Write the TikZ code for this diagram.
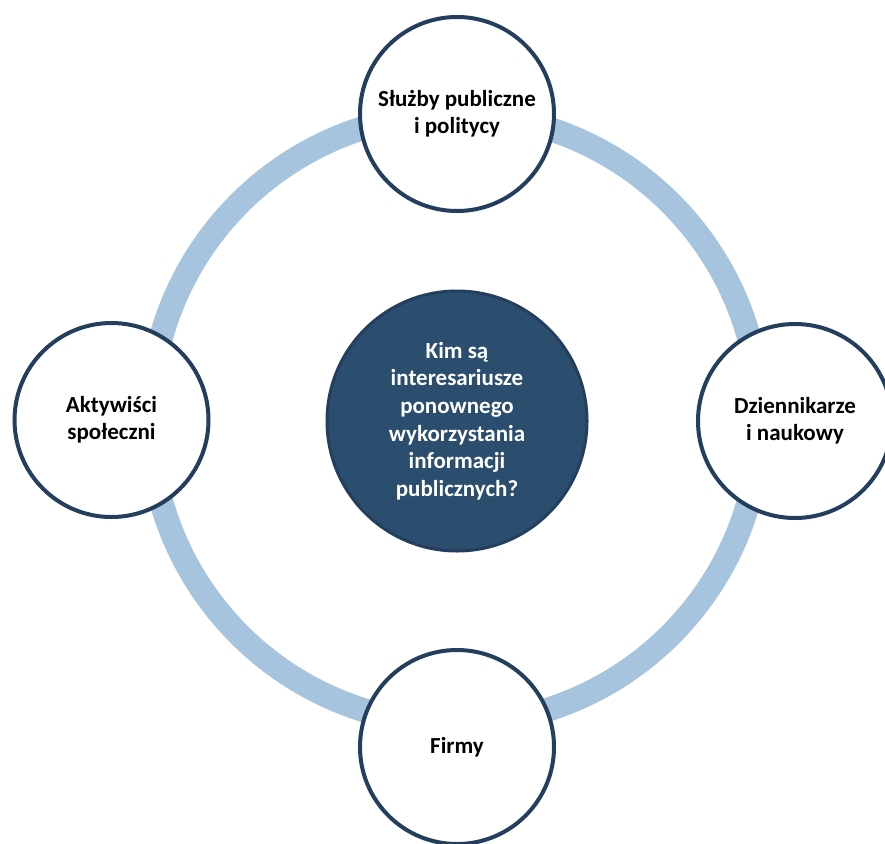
\documentclass[tikz,border=0pt]{standalone}
\usepackage{fontspec}
\setmainfont{Carlito}

\definecolor{ringblue}{RGB}{167,196,222}
\definecolor{rimblue}{RGB}{36,62,94}
\definecolor{hubblue}{RGB}{43,77,110}

\begin{document}
\begin{tikzpicture}[x=1pt,y=-1pt,
	member/.style={circle, draw=rimblue, line width=4pt, fill=white,
		minimum size=194pt, inner sep=0pt, align=center,
		font=\bfseries\fontsize{23}{27}\selectfont},
	hub/.style={circle, draw=rimblue, line width=3pt, fill=hubblue,
		minimum size=260pt, inner sep=0pt, align=center, text=white,
		font=\bfseries\fontsize{23}{27.7}\selectfont}]

% parameters %{{{2

	% ---- ring radius and thickness

	\def\ringrad{305pt}
	\def\ringw{24pt}

% frame %{{{2

	\fill[white] (0,0) rectangle (885,843);
	\useasboundingbox (0,0) rectangle (885,843);

% coordinates %{{{2

	\coordinate (O) at (455,419);

% ring %{{{2

	\draw[ringblue, line width=\ringw] (O) circle[radius=\ringrad];

% hub %{{{2

	\node[hub] (hub) at (457,421)
		{Kim są\\interesariusze\\ponownego\\wykorzystania\\informacji\\publicznych?};

% stakeholders %{{{2

	\node[member] (sluzby) at (457,114)   {Służby publiczne\\i politycy};
	\node[member] (dzienn) at (795,421)   {Dziennikarze\\i naukowy};
	\node[member] (firmy)  at (457,747)   {Firmy};
	\node[member] (aktyw)  at (111.5,420) {Aktywiści\\społeczni};

% closing %{{{2

\end{tikzpicture}
\end{document}
